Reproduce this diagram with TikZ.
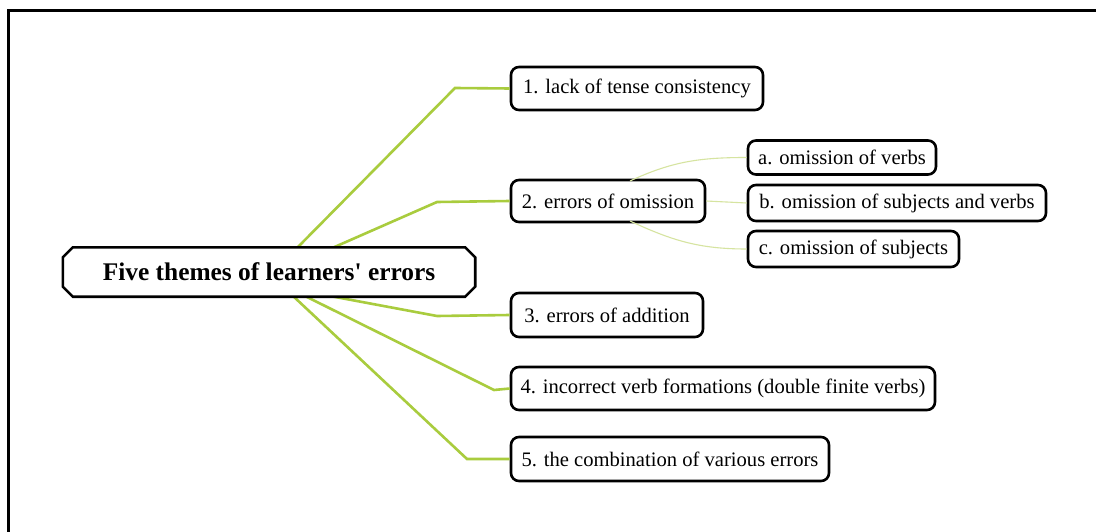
\documentclass[tikz,border=0pt]{standalone}
\usepackage{fontspec}
\setmainfont{Liberation Serif}
\usetikzlibrary{calc}
\definecolor{branch}{HTML}{A9CC3E}
\definecolor{twig}{HTML}{D6E4A0}
\tikzset{
  leaf/.style={draw=black, line width=2.6pt, rounded corners=8pt, fill=white,
    font=\fontsize{20.6}{22}\selectfont, inner sep=0pt, align=center},
  root/.style={fill=white, font=\fontsize{25.4}{27}\selectfont\bfseries, inner sep=0pt},
  branchline/.style={draw=branch, line width=2.6pt},
  twigline/.style={draw=twig, line width=1.1pt}
}
\begin{document}
\begin{tikzpicture}[x=1pt,y=-1pt]
\useasboundingbox (0,0) rectangle (1096,532);
\fill[white] (0,0) rectangle (1096,532);
\draw[line width=3pt] (8,534) -- (8,11) -- (1098,11);

% coordinates for connectors
\coordinate (s1) at (296,249);
\coordinate (e1) at (455,88);
\coordinate (s2) at (330,249);
\coordinate (e2) at (437,202);
\coordinate (s3) at (330,296);
\coordinate (e3) at (437,316);
\coordinate (s4) at (305,296);
\coordinate (e4) at (494,390);
\coordinate (s5) at (293,296);
\coordinate (e5) at (467,459);
\coordinate (ta) at (630,181);
\coordinate (tc) at (630,221);

\node[leaf, minimum width=252pt, minimum height=43pt] (n1) at (637,88.5) {1. lack of tense consistency};
\node[leaf, minimum width=194pt, minimum height=42pt] (n2) at (608,201) {2. errors of omission};
\node[leaf, minimum width=192pt, minimum height=44pt] (n3) at (607,315) {3. errors of addition};
\node[leaf, minimum width=424pt, minimum height=43pt] (n4) at (723,388.5) {4. incorrect verb formations (double finite verbs)};
\node[leaf, minimum width=318pt, minimum height=44pt] (n5) at (670,459) {5. the combination of various errors};

\node[leaf, minimum width=188pt, minimum height=34pt] (na) at (842,157.5) {a. omission of verbs};
\node[leaf, minimum width=298pt, minimum height=36pt] (nb) at (897,203) {b. omission of subjects and verbs};
\node[leaf, minimum width=211pt, minimum height=36pt] (nc) at (853.5,249) {c. omission of subjects};

\draw[branchline] (s1) -- (e1) -- (n1.west);
\draw[branchline] (s2) -- (e2) -- (n2.west);
\draw[branchline] (s3) -- (e3) -- (n3.west);
\draw[branchline] (s4) -- (e4) -- (n4.west);
\draw[branchline] (s5) -- (e5) -- (n5.west);

\node[root, minimum width=412pt, minimum height=49pt] (main) at (269,272) {Five themes of learners\textquotesingle\ errors};
\draw[line width=2.6pt, line join=miter]
  ($(main.north west)+(10,0)$) -- ($(main.north east)+(-10,0)$) -- ($(main.north east)+(0,10)$)
  -- ($(main.south east)+(0,-10)$) -- ($(main.south east)+(-10,0)$) -- ($(main.south west)+(10,0)$)
  -- ($(main.south west)+(0,-10)$) -- ($(main.north west)+(0,10)$) -- cycle;

\draw[twigline] (ta) to[out=25,in=180] (na.west);
\draw[twigline] (n2.east) -- (nb.west);
\draw[twigline] (tc) to[out=-25,in=180] (nc.west);
\end{tikzpicture}
\end{document}
